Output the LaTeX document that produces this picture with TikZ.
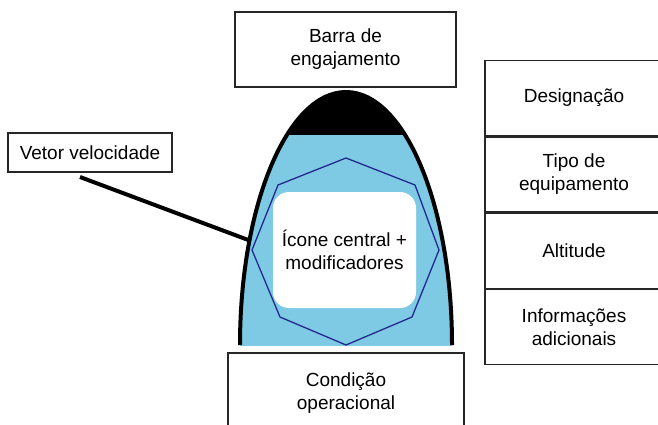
\documentclass[tikz,border=0pt]{standalone}
\usepackage{fontspec}
\setmainfont{Liberation Sans}
\definecolor{skyb}{RGB}{126,202,228}
\definecolor{navyl}{RGB}{35,40,145}
\tikzset{
  lbl/.style={draw=black!85, line width=1.4pt, fill=white, align=center, inner sep=0pt,
    font=\fontsize{19}{23}\selectfont},
  cell/.style={lbl, minimum width=178pt, minimum height=75pt},
}
\begin{document}
\begin{tikzpicture}[x=1pt,y=-1pt]
\useasboundingbox (0,0) rectangle (658,424);
\clip (0,0) rectangle (658,424);
\fill[white] (0,0) rectangle (658,424);
% symbol body
\begin{scope}
  \clip (0,0) rectangle (658,345);
  \fill[skyb] (346,345) ellipse [x radius=106, y radius=253];
\end{scope}
\begin{scope}
  \clip (0,0) rectangle (658,134);
  \fill[black] (346,345) ellipse [x radius=106, y radius=253];
\end{scope}
\draw[line width=4pt] (240,345) arc[start angle=180, end angle=360, x radius=106, y radius=253];
% central icon
\node[fill=white, rounded corners=16pt, minimum width=143pt, minimum height=116pt, inner sep=0pt] (ico) at (344.5,250) {};
\draw[navyl, line width=1.3pt] (346,158) -- (415,185) -- (439,250) -- (412,317) -- (346,345) -- (280,317) -- (252,250) -- (278,185) -- cycle;
\node[align=center, font=\fontsize{19}{23}\selectfont, inner sep=0pt] (icot) at (ico.center) {Ícone central +\\modificadores};
% labels
\node[lbl, minimum width=221pt, minimum height=75pt] (barra) at (345.5,49.5) {Barra de\\engajamento};
\node[lbl, minimum width=236pt, minimum height=80pt] (cond) at (346,393) {Condição\\operacional};
\node[lbl, minimum width=164pt, minimum height=39pt] (vv) at (90,152.5) {Vetor velocidade};
\node[cell] (desig) at (574,98) {Designação};
\node[cell, anchor=north] (tipo) at (desig.south) {Tipo de\\equipamento};
\node[cell, anchor=north] (alt) at (tipo.south) {Altitude};
\node[cell, anchor=north] (info) at (alt.south) {Informações\\adicionais};
% velocity vector
\coordinate (vstart) at (80,177);
\coordinate (vtip) at (251,241);
\draw[line width=4pt] (vstart) -- (vtip);
\end{tikzpicture}
\end{document}
